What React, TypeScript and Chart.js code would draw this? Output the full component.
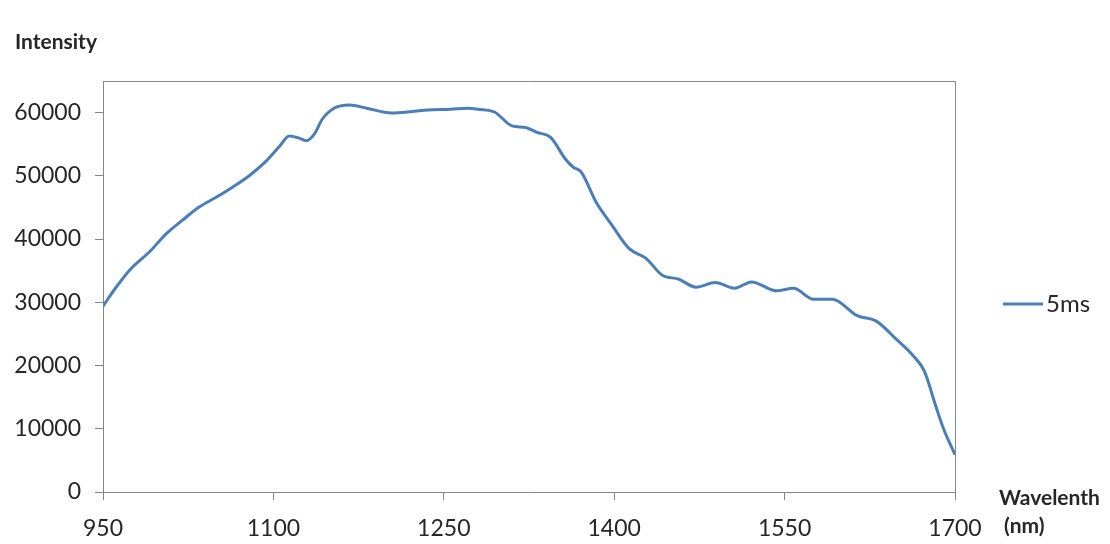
import React, { useEffect, useRef } from "react";
import { Chart, registerables } from "chart.js";

Chart.register(...registerables);

const wavelengths = [
  950, 962, 974, 991, 1006, 1020, 1035, 1050, 1064, 1079, 1094, 1106, 1114, 1122,
  1129, 1136, 1143, 1153, 1167, 1182, 1204, 1222, 1236, 1256, 1271, 1280, 1295,
  1310, 1322, 1332, 1344, 1357, 1364, 1371, 1384, 1398, 1413, 1428, 1442, 1457,
  1472, 1489, 1506, 1521, 1543, 1558, 1575, 1592, 1614, 1631, 1648, 1663, 1673,
  1683, 1690, 1700,
];
const intensities = [
  29400, 32500, 35200, 38000, 40900, 43000, 45100, 46650, 48200, 50050, 52400,
  54800, 56300, 56000, 55550, 56600, 58950, 60650, 61200, 60700, 59950, 60170,
  60430, 60530, 60690, 60530, 60060, 57900, 57650, 56870, 56080, 52670, 51360,
  50580, 45860, 42190, 38520, 36950, 34330, 33650, 32390, 33120, 32230, 33230,
  31810, 32230, 30500, 30500, 27880, 26990, 24210, 21590, 19130, 13630, 9960, 5900,
];
const xTicks = [950, 1100, 1250, 1400, 1550, 1700];
const yTicks = [0, 10000, 20000, 30000, 40000, 50000, 60000];
const seriesName = "5ms";
const yTitle = "Intensity";
const xTitleLines = ["Wavelenth", "(nm)"];

const FONT = "Lato, 'Open Sans', sans-serif";
const LINE_COLOR = "#4A7EBB";
const AXIS_COLOR = "#868686";
const TEXT_COLOR = "#262626";

export default function App() {
  const ref = useRef<HTMLCanvasElement>(null);

  useEffect(() => {
    if (!ref.current) return;

    const framePlugin = {
      id: "frame",
      beforeDatasetsDraw(chart: any) {
        const { ctx, chartArea } = chart;
        ctx.save();
        ctx.strokeStyle = AXIS_COLOR;
        ctx.lineWidth = 1;
        ctx.beginPath();
        ctx.moveTo(chartArea.left, chartArea.top + 0.5);
        ctx.lineTo(chartArea.right + 0.5, chartArea.top + 0.5);
        ctx.lineTo(chartArea.right + 0.5, chartArea.bottom);
        ctx.stroke();
        ctx.restore();
      },
    };

    const textPlugin = {
      id: "texts",
      afterDraw(chart: any) {
        const { ctx } = chart;
        ctx.save();
        ctx.fillStyle = TEXT_COLOR;
        ctx.textBaseline = "middle";
        ctx.textAlign = "left";
        ctx.font = `bold 21px ${FONT}`;
        ctx.fillText(yTitle, 15, 42);
        ctx.fillText(xTitleLines[0], 999, 498);
        ctx.fillText(xTitleLines[1], 1004, 526);
        // legend
        ctx.strokeStyle = LINE_COLOR;
        ctx.lineWidth = 3;
        ctx.beginPath();
        ctx.moveTo(1003, 304);
        ctx.lineTo(1043, 304);
        ctx.stroke();
        ctx.font = `24px ${FONT}`;
        ctx.fillText(seriesName, 1046, 304);
        ctx.restore();
      },
    };

    const chart = new Chart(ref.current, {
      type: "line",
      data: {
        datasets: [
          {
            label: seriesName,
            data: wavelengths.map((w, i) => ({ x: w, y: intensities[i] })),
            borderColor: LINE_COLOR,
            borderWidth: 3,
            pointRadius: 0,
            fill: false,
            tension: 0.4,
            cubicInterpolationMode: "monotone",
          },
        ],
      },
      options: {
        animation: false,
        responsive: true,
        maintainAspectRatio: false,
        layout: { padding: { top: 81, right: 155, bottom: 0, left: 0 } },
        plugins: { legend: { display: false }, tooltip: { enabled: false } },
        scales: {
          x: {
            type: "linear",
            min: 950,
            max: 1700,
            afterBuildTicks: (s: any) => {
              s.ticks = xTicks.map((v) => ({ value: v }));
            },
            afterFit: (s: any) => {
              s.height = 52;
            },
            grid: { drawOnChartArea: false, drawTicks: true, tickLength: 8, color: AXIS_COLOR },
            border: { color: AXIS_COLOR, width: 1 },
            ticks: {
              font: { family: FONT, size: 23 },
              color: TEXT_COLOR,
              padding: 15,
              maxRotation: 0,
              autoSkip: false,
              callback: (v: any) => String(v),
            },
          },
          y: {
            type: "linear",
            min: 0,
            max: 65000,
            afterBuildTicks: (s: any) => {
              s.ticks = yTicks.map((v) => ({ value: v }));
            },
            afterFit: (s: any) => {
              s.width = 103;
            },
            grid: { drawOnChartArea: false, drawTicks: true, tickLength: 8, color: AXIS_COLOR },
            border: { color: AXIS_COLOR, width: 1 },
            ticks: {
              font: { family: FONT, size: 23 },
              color: TEXT_COLOR,
              padding: 14,
              autoSkip: false,
              callback: (v: any) => String(v),
            },
          },
        },
      },
      plugins: [framePlugin, textPlugin],
    });

    return () => chart.destroy();
  }, []);

  return (
    <div style={{ position: "fixed", left: 0, top: 0, width: 1110, height: 544, background: "#fff" }}>
      <canvas ref={ref} />
    </div>
  );
}
